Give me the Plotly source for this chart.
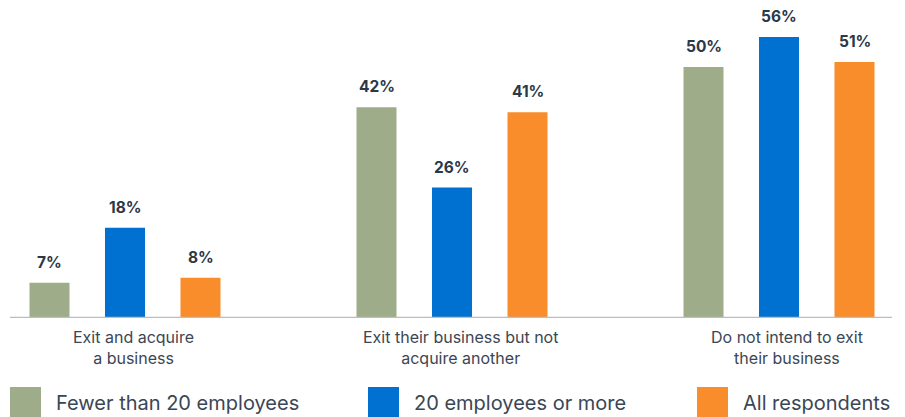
import plotly.graph_objects as go

# Survey results: exit intentions by company size
categories = [
    "Exit and acquire<br>a business",
    "Exit their business but not<br>acquire another",
    "Do not intend to exit<br>their business",
]
series_names = ["Fewer than 20 employees", "20 employees or more", "All respondents"]
small_firms = [7, 42, 50]
large_firms = [18, 26, 56]
all_respondents = [8, 41, 51]

colors = ["#9fac89", "#0071d0", "#f98c2b"]
label_color = "#2a3848"
axis_gray = "#bdbdbd"
font_family = "Inter, Roboto, sans-serif"

W, H = 905, 417
plot_bottom = 318          # pixel row of the baseline
px_per_cat = 327           # pixels between group centres
first_center = 125         # pixel column of first group centre
slot_px = 75.5             # pixel pitch between bars in a group

fig = go.Figure()
series_values = [small_firms, large_firms, all_respondents]
for name, vals, col in zip(series_names, series_values, colors):
    fig.add_trace(go.Bar(
        x=categories, y=vals, name=name,
        marker=dict(color=col, line=dict(width=0)),
        showlegend=False, hoverinfo="skip",
    ))

# value labels above each bar
annotations = []
for i, vals in enumerate(series_values):
    for cat, v in zip(categories, vals):
        annotations.append(dict(
            x=cat, y=v, xref="x", yref="y", text=f"{v}%",
            showarrow=False, yanchor="bottom", xanchor="center",
            xshift=(i - 1) * slot_px, yshift=9,
            font=dict(family=font_family, size=15.5, color=label_color, weight=700),
        ))

# category labels under the axis
for cat in categories:
    annotations.append(dict(
        x=cat, y=0, xref="x", yref="y", text=cat,
        showarrow=False, yanchor="top", xanchor="center",
        xshift=8, yshift=-7, align="center",
        font=dict(family=font_family, size=16, color="#3b4654"),
    ))

# custom legend with large swatches
legend_x = [10, 368, 697]
sw = 31
shapes = [dict(type="line", xref="paper", yref="y",
               x0=10 / W, x1=892 / W, y0=0, y1=0,
               line=dict(color=axis_gray, width=2.5), layer="above")]
plot_h = plot_bottom
def py_to_paper(py):
    return (plot_h - py) / plot_h

for lx, name, col in zip(legend_x, series_names, colors):
    shapes.append(dict(type="rect", xref="paper", yref="paper",
                       x0=lx / W, x1=(lx + sw) / W,
                       y0=py_to_paper(418), y1=py_to_paper(387),
                       fillcolor=col, line=dict(width=0)))
    annotations.append(dict(
        x=(lx + sw + 13) / W, y=py_to_paper(403), xref="paper", yref="paper",
        text=name, showarrow=False, xanchor="left", yanchor="middle",
        font=dict(family=font_family, size=20, color="#3b4654"),
    ))

y_top = plot_bottom / 5.018
fig.update_layout(
    width=W, height=H,
    margin=dict(l=0, r=0, t=0, b=H - plot_bottom),
    paper_bgcolor="white", plot_bgcolor="white",
    barmode="group", bargap=1 - 3 * slot_px / px_per_cat, bargroupgap=0.47,
    xaxis=dict(range=[-first_center / px_per_cat, (W - first_center) / px_per_cat],
               showticklabels=False, showgrid=False, zeroline=False, showline=False,
               ticks=""),
    yaxis=dict(range=[0, y_top], visible=False, showgrid=False, zeroline=False),
    showlegend=False,
    shapes=shapes,
    annotations=annotations,
)

fig.write_html("out.html")
